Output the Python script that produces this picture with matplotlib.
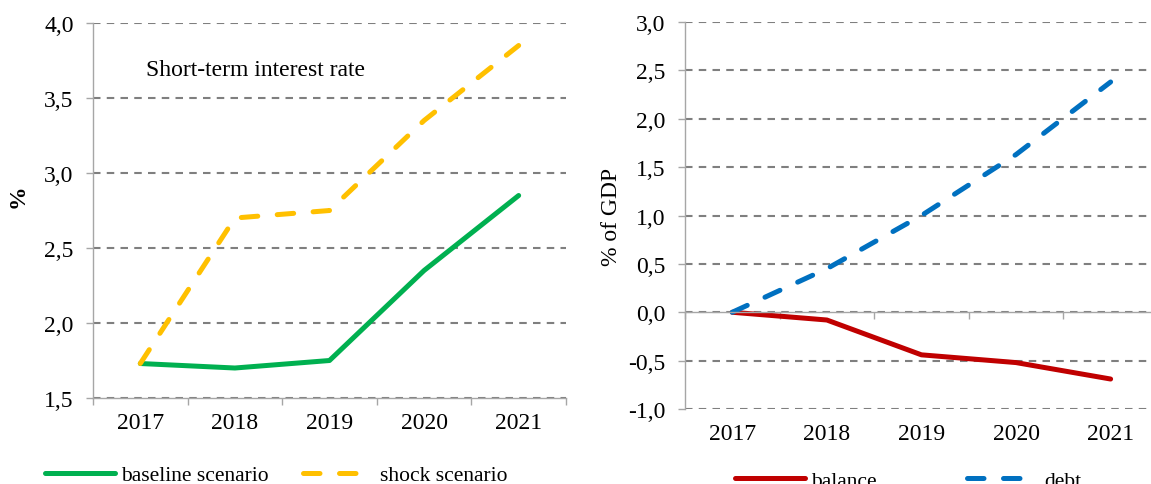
import matplotlib.pyplot as plt
from matplotlib.ticker import FixedLocator

plt.rcParams['font.family'] = ['Liberation Serif', 'DejaVu Serif']

years = ['2017', '2018', '2019', '2020', '2021']
baseline = [1.73, 1.70, 1.75, 2.35, 2.85]
shock = [1.73, 2.70, 2.75, 3.35, 3.85]
balance = [0.00, -0.08, -0.44, -0.52, -0.69]
debt = [0.00, 0.45, 1.00, 1.63, 2.38]

left_ticks = [1.5, 2.0, 2.5, 3.0, 3.5, 4.0]
right_ticks = [-1.0, -0.5, 0.0, 0.5, 1.0, 1.5, 2.0, 2.5, 3.0]

GREEN = '#00B050'
YELLOW = '#FFC000'
RED = '#C00000'
BLUE = '#0070C0'
GRID = '#7F7F7F'
SPINE = '#A6A6A6'
LW = 3.6
DASH = (0, (3.3, 3.9))


def comma(v):
    return f"{v:.1f}".replace('.', ',')


def style_axis(ax, yticks, xlabel_pad):
    x = list(range(len(years)))
    ax.set_xlim(-0.5, len(years) - 0.5)
    ax.set_ylim(yticks[0], yticks[-1])
    ax.set_yticks(yticks)
    ax.set_yticklabels([comma(v) for v in yticks])
    ax.set_xticks(x)
    ax.set_xticklabels(years)
    ax.xaxis.set_minor_locator(FixedLocator([i - 0.5 for i in range(len(years) + 1)]))
    ax.tick_params(axis='x', which='major', length=0, pad=xlabel_pad, labelsize=17)
    ax.tick_params(axis='x', which='minor', length=5, width=1, color=SPINE, direction='out')
    ax.tick_params(axis='y', length=5, width=1, color=SPINE, pad=9, labelsize=17)
    for s in ['top', 'right']:
        ax.spines[s].set_visible(False)
    for s in ['left', 'bottom']:
        ax.spines[s].set_color(SPINE)
        ax.spines[s].set_linewidth(1)
    ax.grid(axis='y', color=GRID, linewidth=1.5, linestyle=(0, (3.6, 3.0)))
    ax.set_axisbelow(True)


fig = plt.figure(figsize=(11.51, 4.85), dpi=100)

# left panel: interest rates
ax1 = fig.add_axes([0.0808, 0.1773, 0.4109, 0.7732])
style_axis(ax1, left_ticks, 10)
x = list(range(len(years)))
ax1.plot(x, baseline, color=GREEN, lw=LW, solid_capstyle='round', label='baseline scenario', clip_on=False)
ax1.plot(x, shock, color=YELLOW, lw=LW, linestyle=DASH, dash_capstyle='round',
         label='shock scenario', clip_on=False)
ax1.text(0.112, 0.876, 'Short-term interest rate', transform=ax1.transAxes,
         fontsize=17, va='center', ha='left')
ax1.set_ylabel('%', fontsize=17, fontweight='bold')
ax1.yaxis.set_label_coords(-0.137, 0.541)
ax1.legend(loc='center left', bbox_to_anchor=(0.0391, 0.0185), bbox_transform=fig.transFigure,
           ncol=2, frameon=False, fontsize=15.5, handlelength=3.25, handletextpad=0.3,
           columnspacing=1.6, borderpad=0, borderaxespad=0)

# right panel: fiscal balance and debt
ax2 = fig.add_axes([0.5951, 0.1546, 0.4109, 0.7980])
style_axis(ax2, right_ticks, 80)
ax2.spines['bottom'].set_position(('data', 0))
ax2.plot(x, balance, color=RED, lw=LW, solid_capstyle='round', label='balance', clip_on=False)
ax2.plot(x, debt, color=BLUE, lw=LW, linestyle=DASH, dash_capstyle='round',
         label='debt', clip_on=False)
ax2.set_ylabel('% of GDP', fontsize=17)
ax2.yaxis.set_label_coords(-0.133, 0.499)
ax2.legend(loc='center left', bbox_to_anchor=(0.6386, 0.0062), bbox_transform=fig.transFigure,
           ncol=2, frameon=False, fontsize=15.5, handlelength=3.25, handletextpad=0.3,
           columnspacing=4.2, borderpad=0, borderaxespad=0)

fig.savefig('out.png', dpi=100)
